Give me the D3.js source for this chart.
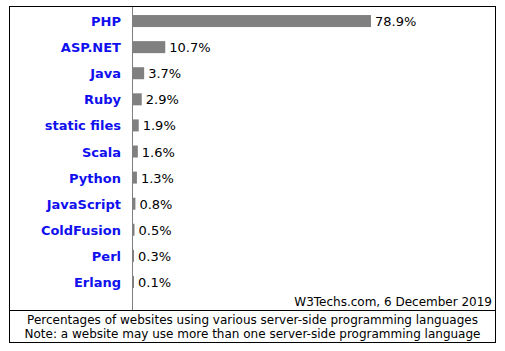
<!DOCTYPE html>
<html lang="en">
<head>
    <meta charset="UTF-8">
    <script src="https://d3js.org/d3.v7.min.js"></script>
    <title>server-side languages</title>
    <style>
      body { margin: 0; background: #fff; }
    </style>
</head>
<body>
    <script>
    // usage of server-side programming languages, W3Techs Dec 2019
    var languages = ["PHP", "ASP.NET", "Java", "Ruby", "static files", "Scala", "Python",
                     "JavaScript", "ColdFusion", "Perl", "Erlang"]
    var shares = [78.9, 10.7, 3.7, 2.9, 1.9, 1.6, 1.3, 0.8, 0.5, 0.3, 0.1]
    var credit = "W3Techs.com, 6 December 2019"
    var notes = ["Percentages of websites using various server-side programming languages",
                 "Note: a website may use more than one server-side programming language"]

    var width = 505, height = 351
    var font = "'DejaVu Sans', Verdana, sans-serif"

    var svg = d3.select("body").append("svg")
        .attr("width", width)
        .attr("height", height)

    // outer frame + separator above the notes
    svg.append("rect")
        .attr("x", 9.5).attr("y", 6.5)
        .attr("width", 486).attr("height", 336)
        .attr("fill", "none").attr("stroke", "#000")
    svg.append("line")
        .attr("x1", 9.5).attr("x2", 495.5)
        .attr("y1", 310.5).attr("y2", 310.5)
        .attr("stroke", "#000")

    var x = d3.scaleLinear()
        .domain([0, 100])
        .range([133, 133 + 301.6])

    var y = d3.scaleBand()
        .domain(languages)
        .range([8, 295])
        .paddingInner(0.54)
        .paddingOuter(0.27)

    // vertical base line
    svg.append("line")
        .attr("x1", 132.5).attr("x2", 132.5)
        .attr("y1", 7).attr("y2", 310)
        .attr("stroke", "#808080")

    var data = languages.map(function (d, i) { return { name: d, value: shares[i] } })

    svg.selectAll("rect.bar")
        .data(data)
        .enter()
        .append("rect")
        .attr("class", "bar")
        .attr("x", x(0))
        .attr("y", function (d) { return y(d.name) })
        .attr("width", function (d) { return Math.max(1, x(d.value) - x(0)) })
        .attr("height", y.bandwidth())
        .attr("fill", "#808080")

    svg.selectAll("text.name")
        .data(data)
        .enter()
        .append("text")
        .attr("class", "name")
        .attr("x", 121)
        .attr("y", function (d) { return y(d.name) + y.bandwidth() / 2 + 5 })
        .attr("text-anchor", "end")
        .style("font-family", font)
        .style("font-size", "13px")
        .style("font-weight", "bold")
        .attr("fill", "#1010ee")
        .text(function (d) { return d.name })

    svg.selectAll("text.value")
        .data(data)
        .enter()
        .append("text")
        .attr("class", "value")
        .attr("x", function (d) { return Math.max(x(d.value), x(0) + 1) + 4 })
        .attr("y", function (d) { return y(d.name) + y.bandwidth() / 2 + 5 })
        .style("font-family", font)
        .style("font-size", "13px")
        .attr("fill", "#000")
        .text(function (d) { return d.value.toFixed(1) + "%" })

    svg.append("text")
        .attr("x", 492)
        .attr("y", 306)
        .attr("text-anchor", "end")
        .style("font-family", font)
        .style("font-size", "12px")
        .text(credit)

    svg.selectAll("text.note")
        .data(notes)
        .enter()
        .append("text")
        .attr("class", "note")
        .attr("x", 252.5)
        .attr("y", function (d, i) { return 324 + i * 14 })
        .attr("text-anchor", "middle")
        .style("font-family", font)
        .style("font-size", "12px")
        .text(function (d) { return d })
    </script>
</body>
</html>
